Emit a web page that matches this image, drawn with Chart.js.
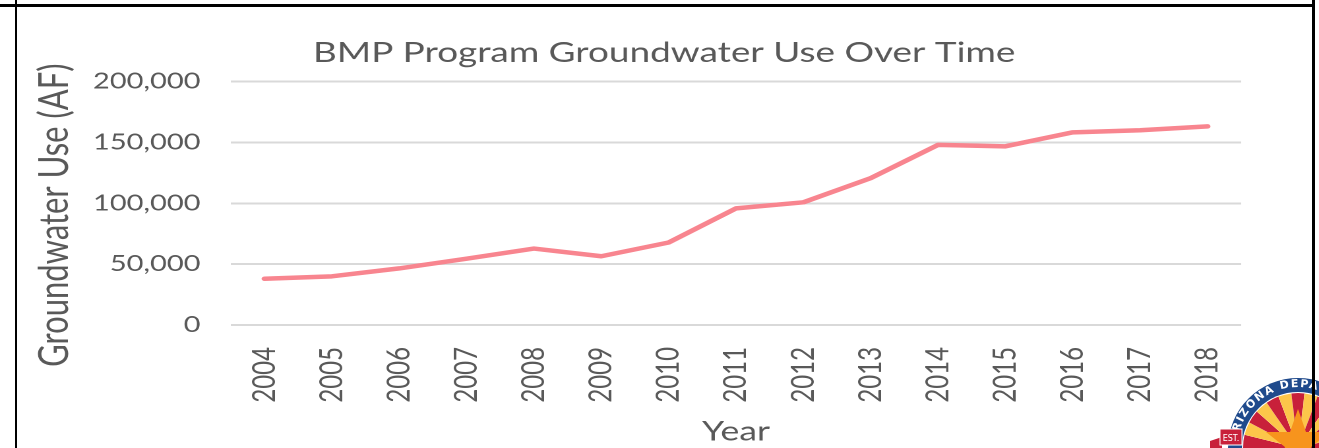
<!DOCTYPE html>
<html>
<head>
<meta charset="utf-8">
<script src="https://cdn.jsdelivr.net/npm/chart.js@4"></script>
<style>
  html, body { margin: 0; padding: 0; background: #fff; overflow: hidden; }
  body { width: 1319px; height: 448px; position: relative; }
  #wrap { position: absolute; left: 0; top: 0; width: 1000px; height: 448px;
          transform: scaleX(1.319); transform-origin: 0 0; }
  .bar { position: absolute; background: #000; z-index: 5; }
  #logo { position: absolute; left: 1208px; top: 360px; z-index: 3; }
</style>
</head>
<body>
<div id="wrap"><canvas id="chart" width="1000" height="448"></canvas></div>
<div class="bar" style="left:0;top:4px;width:1315px;height:3px"></div>
<div class="bar" style="left:15px;top:0;width:2px;height:448px"></div>
<div class="bar" style="left:1312px;top:0;width:3px;height:448px"></div>
<svg id="logo" width="111" height="88" viewBox="1208 360 111 88">
  <defs>
    <path id="arc" d="M 1237 448 A 61 61 0 0 1 1359 448"></path>
  </defs>
  <circle cx="1298" cy="448" r="70" fill="#1f4a8c"></circle>
  <circle cx="1298" cy="448" r="56" fill="#fff"></circle>
  <g id="rays"></g>
  <text font-family="DejaVu Sans" font-weight="bold" font-size="11" fill="#fff" letter-spacing="1.5">
    <textPath href="#arc" startOffset="6">ARIZONA DEPARTMENT</textPath>
  </text>
  <polygon points="1298,409 1306,432 1330,432 1311,447 1318,469 1298,456 1278,469 1285,447 1266,432 1290,432" fill="#f7941d"></polygon>
  <polygon points="1210,441 1222,437 1222,450 1210,450" fill="#c8203a"></polygon>
  <rect x="1220" y="429" width="22" height="16" fill="#c8203a" stroke="#fff" stroke-width="1"></rect>
  <text x="1231" y="441" font-family="DejaVu Sans" font-size="8" fill="#fff" text-anchor="middle">EST.</text>
</svg>
<script>
const years = ['2004', '2005', '2006', '2007', '2008', '2009', '2010', '2011', '2012', '2013', '2014', '2015', '2016', '2017', '2018'];
const groundwaterUse = [38000, 40000, 46500, 54500, 62800, 56500, 67800, 95800, 100800, 120700, 148000, 146800, 158300, 160000, 163200];
const yTicks = [0, 50000, 100000, 150000, 200000];

// sun rays of the seal
(function() {
  const g = document.getElementById('rays');
  const cx = 1298, cy = 448, r = 55, n = 13;
  for (let i = 0; i < n; i++) {
    const a0 = Math.PI + i * Math.PI / n, a1 = Math.PI + (i + 1) * Math.PI / n;
    const p = document.createElementNS('http://www.w3.org/2000/svg', 'path');
    p.setAttribute('d', 'M' + cx + ' ' + cy + ' L' + (cx + r * Math.cos(a0)) + ' ' + (cy + r * Math.sin(a0)) +
      ' A' + r + ' ' + r + ' 0 0 1 ' + (cx + r * Math.cos(a1)) + ' ' + (cy + r * Math.sin(a1)) + ' Z');
    p.setAttribute('fill', i % 2 ? '#fcc64a' : '#c8203a');
    g.appendChild(p);
  }
})();

const grey = '#595959';

new Chart(document.getElementById('chart'), {
  type: 'line',
  data: {
    labels: years,
    datasets: [{
      label: 'Groundwater Use',
      data: groundwaterUse,
      borderColor: '#f8858f',
      backgroundColor: '#f8858f',
      borderWidth: 4.5,
      borderCapStyle: 'round',
      borderJoinStyle: 'round',
      pointRadius: 0,
      tension: 0,
      fill: false
    }]
  },
  options: {
    responsive: false,
    animation: false,
    devicePixelRatio: 2,
    layout: { padding: { left: 7, right: 0, top: 0, bottom: 0 } },
    plugins: {
      legend: { display: false },
      tooltip: { enabled: false },
      title: {
        display: true,
        text: 'BMP Program Groundwater Use Over Time',
        color: grey,
        font: { family: 'Lato', size: 28, weight: 'normal', lineHeight: 1.2 },
        padding: { top: 36, bottom: 12 }
      }
    },
    scales: {
      x: {
        offset: true,
        grid: { display: false, drawTicks: false },
        border: { display: false },
        ticks: {
          color: grey,
          font: { family: 'Lato', size: 24 },
          minRotation: 90,
          maxRotation: 90,
          padding: 22
        },
        title: {
          display: true,
          text: 'Year',
          color: grey,
          font: { family: 'Lato', size: 27, lineHeight: 1.2 },
          padding: { top: 0, bottom: 0 }
        },
        afterFit: function(scale) { scale.height = 448 - 325; }
      },
      y: {
        min: 0,
        max: 200000,
        afterBuildTicks: function(scale) { scale.ticks = yTicks.map(v => ({ value: v })); },
        grid: { color: '#d9d9d9', lineWidth: 2, drawTicks: false },
        border: { display: false },
        ticks: {
          color: grey,
          font: { family: 'Lato', size: 22 },
          padding: 23
        },
        title: {
          display: true,
          // trailing spaces push the rotated title a little lower, as in the original
          text: 'Groundwater Use (AF)\u00a0\u00a0\u00a0',
          color: grey,
          font: { family: 'Lato', size: 31, lineHeight: 1.2 },
          padding: { top: 16, bottom: 0 }
        },
        afterFit: function(scale) { scale.width = 175 - 7; }
      },
      // empty right-hand axis that only reserves the space right of the plot
      yRight: {
        position: 'right',
        grid: { display: false, drawTicks: false },
        border: { display: false },
        ticks: { display: false },
        afterFit: function(scale) { scale.width = 1000 - 941; }
      }
    }
  }
});
</script>
</body>
</html>
